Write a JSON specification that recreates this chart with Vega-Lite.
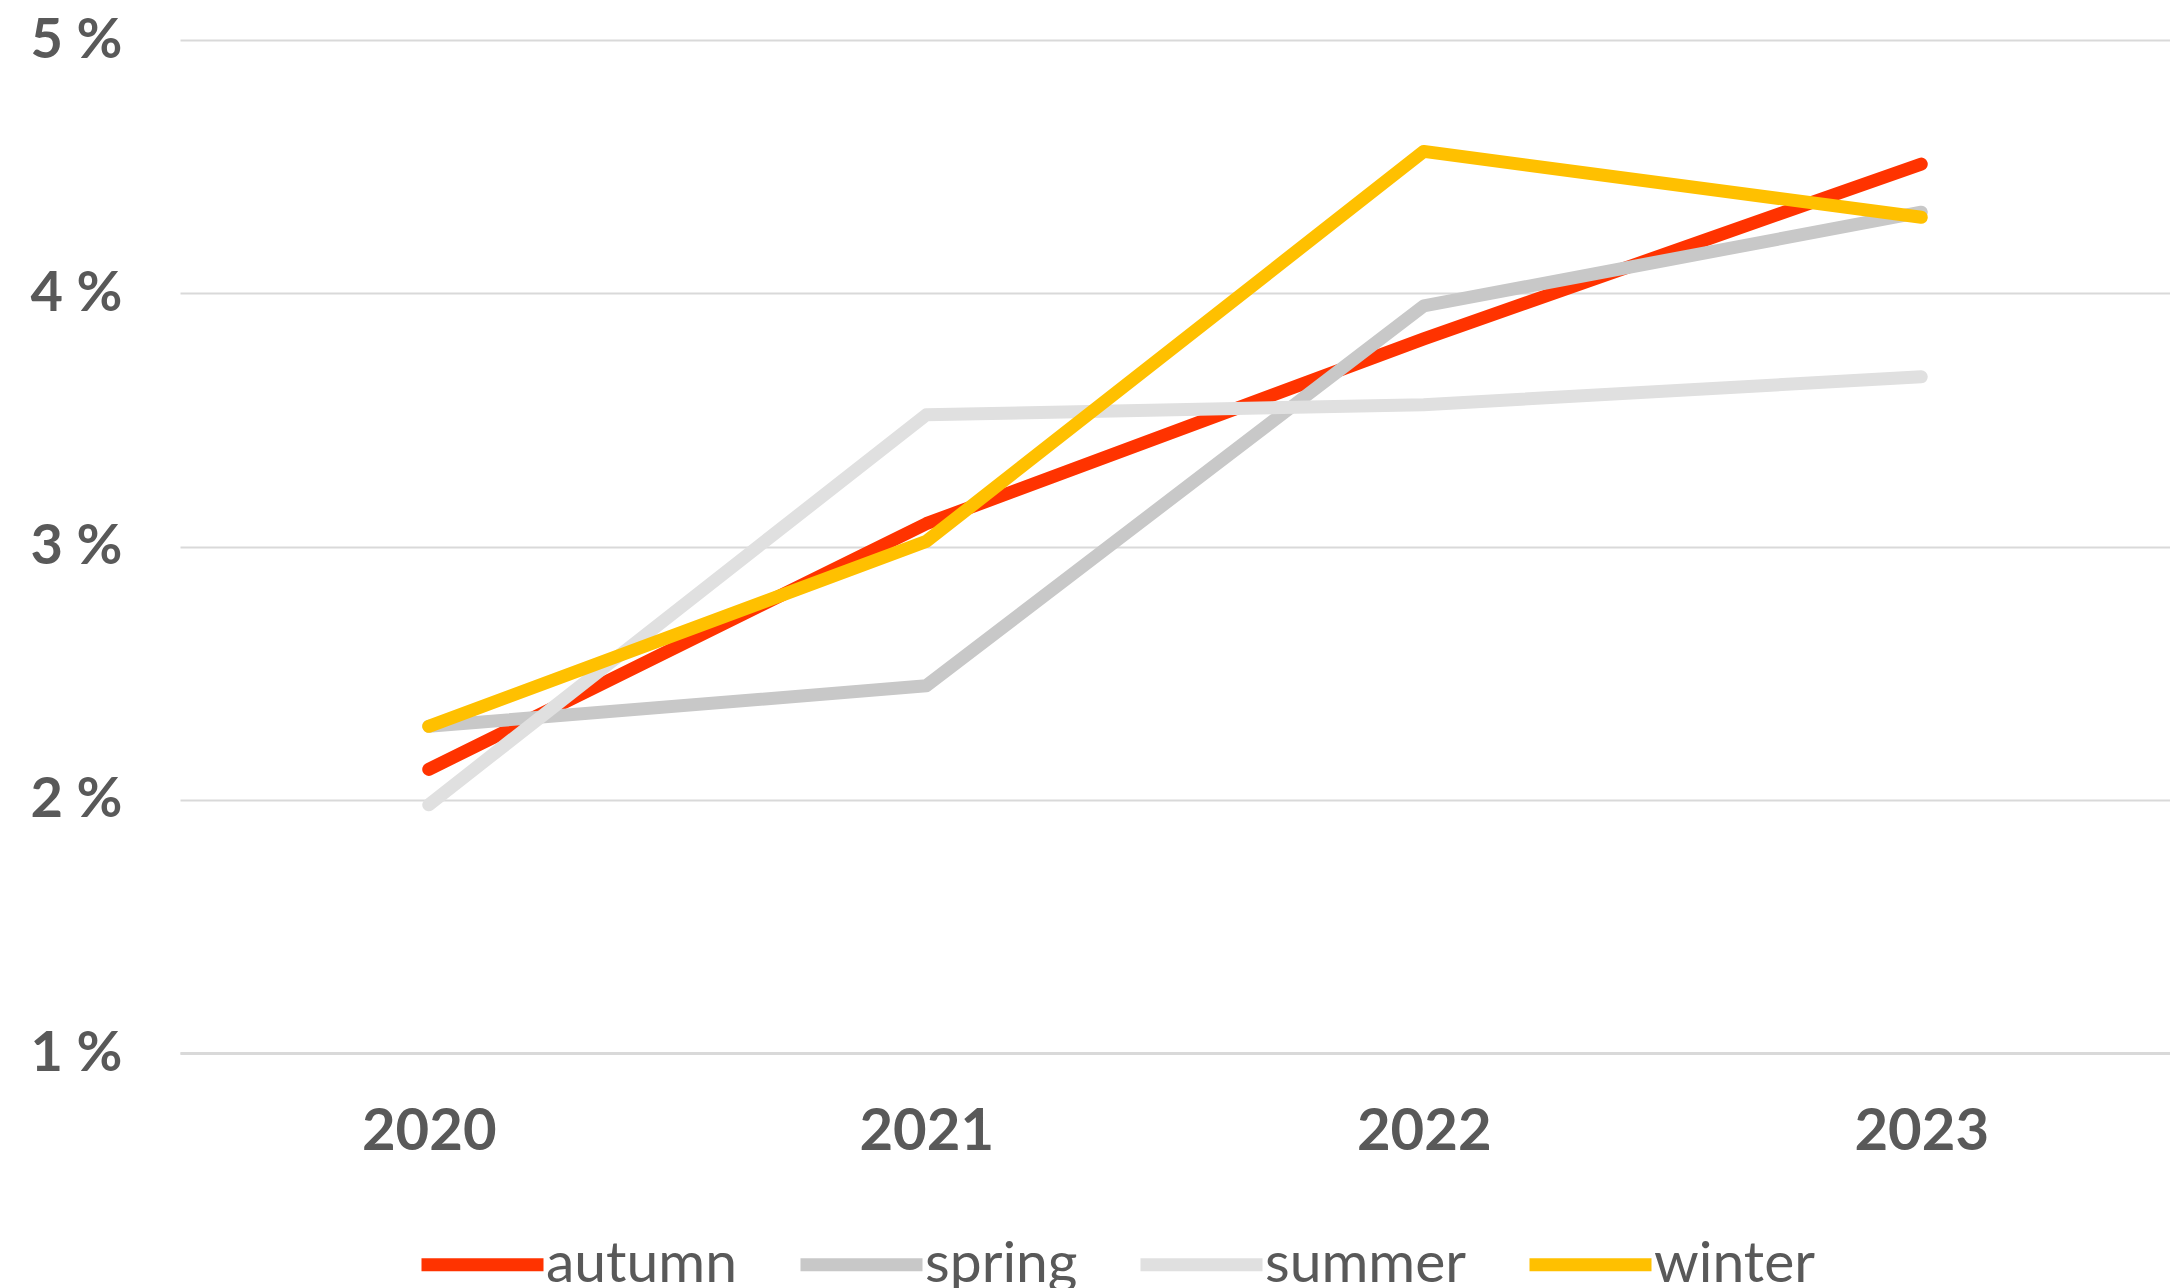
{
  "$schema": "https://vega.github.io/schema/vega-lite/v6.json",
  "width": 1990,
  "height": 1013,
  "autosize": {"type": "none"},
  "padding": {"left": 180, "top": 40, "right": 0, "bottom": 235},
  "background": "white",
  "config": {"view": {"stroke": null}},
  "data": {
    "values": [
      {"year": "2020", "season": "autumn", "value": 2.12},
      {"year": "2021", "season": "autumn", "value": 3.09},
      {"year": "2022", "season": "autumn", "value": 3.82},
      {"year": "2023", "season": "autumn", "value": 4.51},
      {"year": "2020", "season": "spring", "value": 2.29},
      {"year": "2021", "season": "spring", "value": 2.45},
      {"year": "2022", "season": "spring", "value": 3.95},
      {"year": "2023", "season": "spring", "value": 4.32},
      {"year": "2020", "season": "summer", "value": 1.98},
      {"year": "2021", "season": "summer", "value": 3.52},
      {"year": "2022", "season": "summer", "value": 3.56},
      {"year": "2023", "season": "summer", "value": 3.67},
      {"year": "2020", "season": "winter", "value": 2.29},
      {"year": "2021", "season": "winter", "value": 3.02},
      {"year": "2022", "season": "winter", "value": 4.56},
      {"year": "2023", "season": "winter", "value": 4.30}
    ]
  },
  "mark": {"type": "line", "strokeWidth": 13, "strokeCap": "round", "strokeJoin": "round"},
  "encoding": {
    "x": {
      "field": "year",
      "type": "ordinal",
      "scale": {"type": "point", "padding": 0.5},
      "axis": {
        "title": null,
        "labelAngle": 0,
        "ticks": false,
        "grid": false,
        "domain": true,
        "domainColor": "#D9D9D9",
        "domainWidth": 3,
        "labelFont": "Lato",
        "labelFontWeight": "bold",
        "labelFontSize": 58,
        "labelColor": "#595959",
        "labelPadding": 50
      }
    },
    "y": {
      "field": "value",
      "type": "quantitative",
      "scale": {"domain": [1, 5], "nice": false, "zero": false},
      "axis": {
        "title": null,
        "values": [1, 2, 3, 4, 5],
        "labelExpr": "datum.value + ' %'",
        "ticks": false,
        "domain": false,
        "grid": true,
        "gridColor": "#D9D9D9",
        "gridWidth": 2,
        "labelFont": "Lato",
        "labelFontWeight": "bold",
        "labelFontSize": 56,
        "labelColor": "#595959",
        "labelPadding": 58
      }
    },
    "color": {
      "field": "season",
      "type": "nominal",
      "scale": {
        "domain": ["autumn", "spring", "summer", "winter"],
        "range": ["#FF3300", "#C8C8C8", "#E0E0E0", "#FFC000"]
      },
      "legend": {
        "title": null,
        "orient": "none",
        "direction": "horizontal",
        "columns": 4,
        "legendX": 235,
        "legendY": 1157,
        "padding": 0,
        "symbolType": "stroke",
        "symbolSize": 14884,
        "symbolStrokeWidth": 13,
        "labelFont": "Lato",
        "labelFontSize": 57,
        "labelColor": "#595959",
        "labelOffset": -4,
        "columnPadding": 36,
        "labelLimit": 400
      }
    }
  }
}
